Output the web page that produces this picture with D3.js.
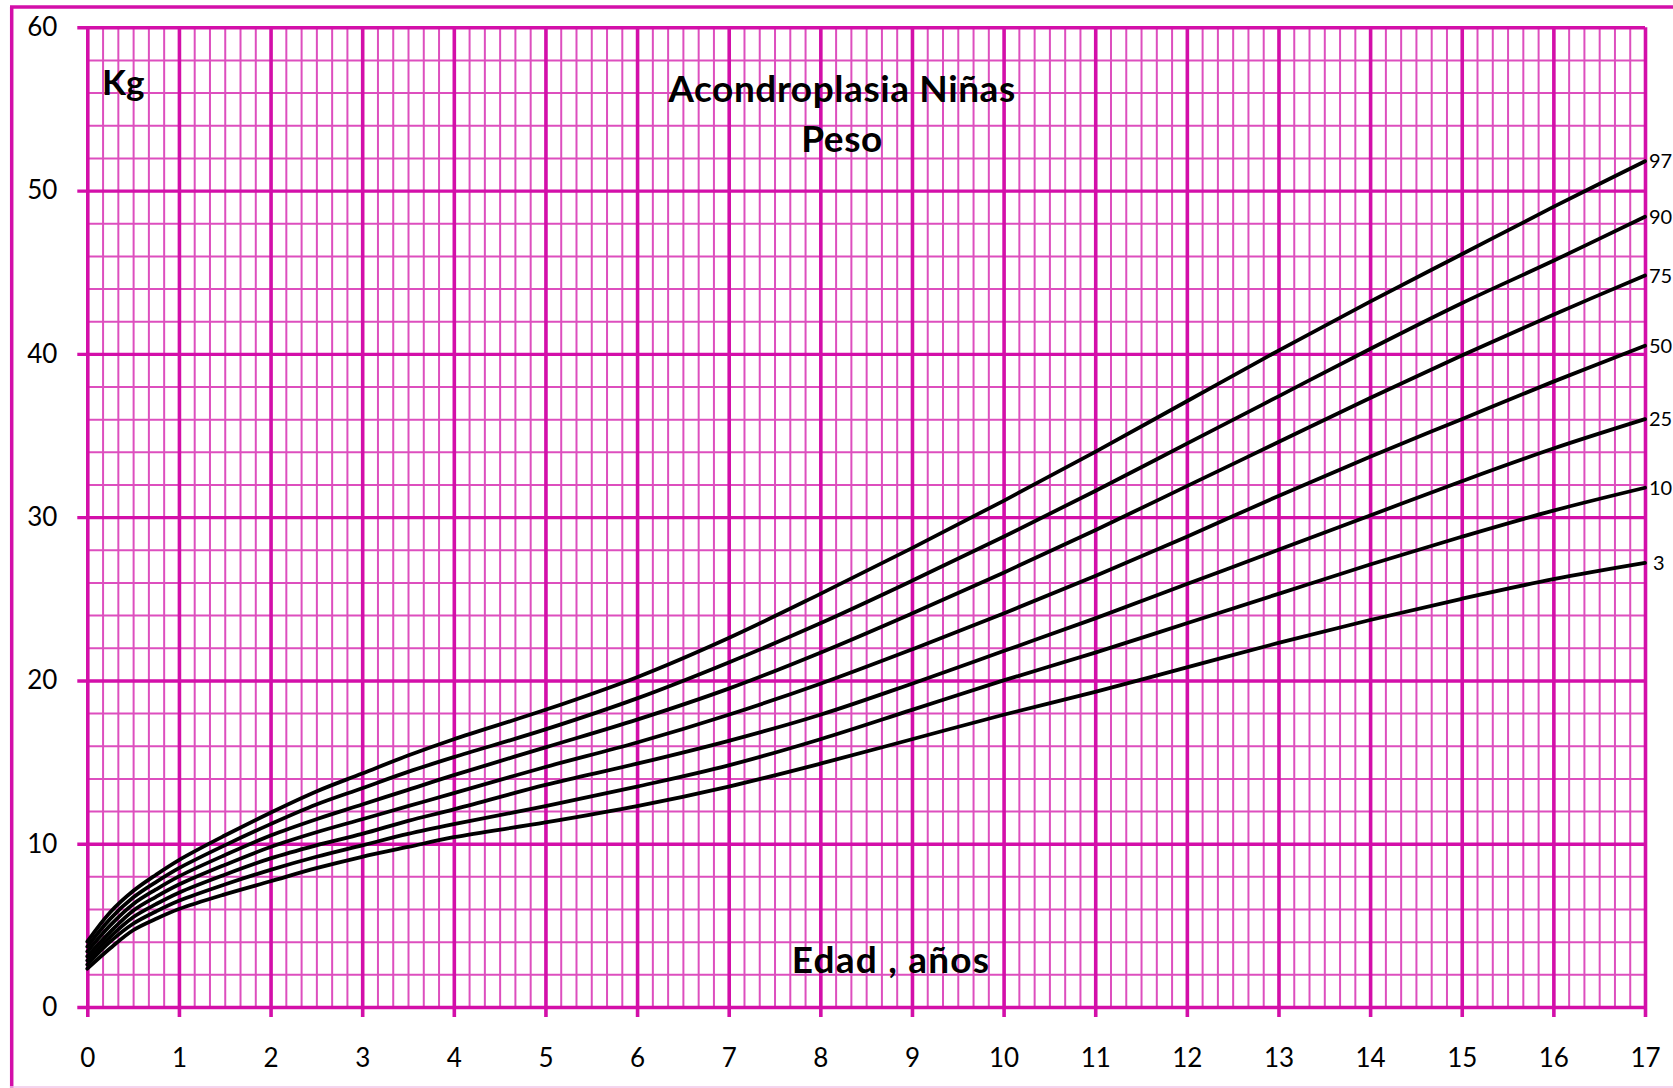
<!DOCTYPE html>
<html>
<head>
<meta charset="utf-8">
<script src="https://cdn.jsdelivr.net/npm/d3@7"></script>
<style>
  html, body { margin: 0; padding: 0; background: #fff; }
  svg { display: block; }
  text { font-family: Lato, "Open Sans", sans-serif; }
</style>
</head>
<body>
<script>
// ---- data ----
const ages = [0, 0.25, 0.5, 0.75, 1, 1.5, 2, 2.5, 3, 3.5, 4, 5, 6, 7, 8, 9, 10, 11, 12, 13, 14, 15, 16, 17];
const p3  = [2.35, 3.6, 4.7, 5.4, 6.0, 6.9, 7.7, 8.5, 9.2, 9.8, 10.4, 11.3, 12.3, 13.5, 14.9, 16.4, 17.9, 19.3, 20.8, 22.3, 23.7, 25.0, 26.2, 27.2];
const p10 = [2.6, 4.0, 5.1, 5.85, 6.5, 7.5, 8.4, 9.2, 9.9, 10.6, 11.2, 12.3, 13.5, 14.8, 16.4, 18.2, 20.0, 21.7, 23.5, 25.3, 27.1, 28.8, 30.4, 31.8];
const p25 = [2.85, 4.3, 5.5, 6.3, 7.0, 8.1, 9.1, 9.9, 10.6, 11.4, 12.1, 13.6, 14.9, 16.3, 17.9, 19.8, 21.8, 23.8, 25.9, 28.0, 30.1, 32.2, 34.2, 36.0];
const p50 = [3.1, 4.6, 5.9, 6.75, 7.5, 8.7, 9.8, 10.7, 11.5, 12.3, 13.1, 14.7, 16.2, 17.9, 19.8, 21.9, 24.1, 26.4, 28.8, 31.3, 33.7, 36.0, 38.3, 40.5];
const p75 = [3.4, 5.0, 6.3, 7.2, 8.0, 9.3, 10.5, 11.5, 12.4, 13.3, 14.2, 15.9, 17.6, 19.5, 21.7, 24.1, 26.6, 29.2, 31.9, 34.6, 37.3, 39.9, 42.4, 44.8];
const p90 = [3.7, 5.4, 6.7, 7.65, 8.5, 9.9, 11.2, 12.4, 13.4, 14.4, 15.3, 17.0, 18.9, 21.1, 23.5, 26.1, 28.8, 31.6, 34.5, 37.4, 40.3, 43.1, 45.7, 48.4];
const p97 = [4.0, 5.8, 7.1, 8.1, 9.0, 10.5, 11.9, 13.2, 14.3, 15.4, 16.4, 18.2, 20.2, 22.6, 25.3, 28.1, 31.0, 34.0, 37.1, 40.2, 43.2, 46.1, 49.0, 51.8];
const seriesNames = ["3", "10", "25", "50", "75", "90", "97"];
const seriesValues = [p3, p10, p25, p50, p75, p90, p97];
const xTicks = d3.range(0, 18, 1);
const yTicks = d3.range(0, 61, 10);
const title1 = "Acondroplasia Niñas";
const title2 = "Peso";
const yTitle = "Kg";
const xTitle = "Edad , años";

// ---- layout ----
const W = 1673, H = 1088;
const x0 = 87.3, x1 = 1645, yTop = 27.3, yBot = 1007;
const major = "#D30FA9", minor = "#DD4FBE";

const svg = d3.select("body").append("svg").attr("width", W).attr("height", H);

const x = d3.scaleLinear().domain([0, 17]).range([x0, x1]);
const y = d3.scaleLinear().domain([0, 60]).range([yBot, yTop]);

// outer frame
svg.append("line").attr("x1", 11.7).attr("x2", 11.7).attr("y1", 7).attr("y2", H)
  .attr("stroke", major).attr("stroke-width", 3.5);
svg.append("line").attr("x1", 10).attr("x2", W).attr("y1", 7).attr("y2", 7)
  .attr("stroke", major).attr("stroke-width", 3.5);
svg.append("line").attr("x1", 10).attr("x2", W).attr("y1", 1087).attr("y2", 1087)
  .attr("stroke", "#F0C6E8").attr("stroke-width", 1.5);

// minor grid
const minorX = d3.range(0, 17 * 6 + 1).filter(i => i % 6 !== 0).map(i => i / 6);
const minorY = d3.range(0, 61, 2).filter(v => v % 10 !== 0);

const gMinX = svg.append("g").attr("transform", `translate(0,${yBot})`)
  .call(d3.axisBottom(x).tickValues(minorX).tickSize(-(yBot - yTop)).tickFormat(""));
const gMinY = svg.append("g").attr("transform", `translate(${x0},0)`)
  .call(d3.axisLeft(y).tickValues(minorY).tickSize(-(x1 - x0)).tickFormat(""));
[gMinX, gMinY].forEach(g => {
  g.select(".domain").remove();
  g.selectAll(".tick line").attr("stroke", minor).attr("stroke-width", 2);
});

// major grid + axes
const gx = svg.append("g").attr("transform", `translate(0,${yBot})`)
  .call(d3.axisBottom(x).tickValues(xTicks).tickSize(10).tickFormat(d3.format("d")));
gx.select(".domain").remove();
gx.selectAll(".tick line").attr("y1", -(yBot - yTop)).attr("y2", 10)
  .attr("stroke", major).attr("stroke-width", 3.6);
gx.selectAll(".tick text").attr("y", 59.5).attr("dy", 0)
  .attr("font-size", 26).attr("fill", "#000").attr("font-family", "Lato");

const gy = svg.append("g").attr("transform", `translate(${x0},0)`)
  .call(d3.axisLeft(y).tickValues(yTicks).tickSize(10).tickPadding(20).tickFormat(d3.format("d")));
gy.select(".domain").remove();
gy.selectAll(".tick line").attr("x1", -10).attr("x2", x1 - x0)
  .attr("stroke", major).attr("stroke-width", 3.4);
gy.selectAll(".tick text").attr("font-size", 26).attr("fill", "#000").attr("font-family", "Lato");

// curves
const line = d3.line().x(d => x(d[0])).y(d => y(d[1])).curve(d3.curveCatmullRom.alpha(0.5));
const gCurves = svg.append("g");
seriesValues.forEach((vals, i) => {
  const pts = ages.map((a, j) => [a, vals[j]]);
  gCurves.append("path").attr("d", line(pts))
    .attr("fill", "none").attr("stroke", "#000").attr("stroke-width", 3.8)
    .attr("stroke-linecap", "round").attr("stroke-linejoin", "round");
  svg.append("text")
    .attr("x", x(17) + 4 + (seriesNames[i].length === 1 ? 4 : 0))
    .attr("y", y(vals[vals.length - 1]))
    .attr("dy", "0.36em")
    .attr("font-size", 20)
    .attr("fill", "#000")
    .text(seriesNames[i]);
});

// titles
svg.append("text").attr("x", 842).attr("y", 101.5).attr("text-anchor", "middle")
  .attr("font-size", 37).attr("letter-spacing", 0.6).attr("font-weight", "bold").text(title1);
svg.append("text").attr("x", 842).attr("y", 151.5).attr("text-anchor", "middle")
  .attr("font-size", 37).attr("letter-spacing", 0.6).attr("font-weight", "bold").text(title2);
svg.append("text").attr("x", 102).attr("y", 95).attr("text-anchor", "start")
  .attr("font-size", 35).attr("font-weight", "bold").text(yTitle);
svg.append("text").attr("x", 891).attr("y", 972.5).attr("text-anchor", "middle")
  .attr("font-size", 37).attr("letter-spacing", 1.2).attr("font-weight", "bold").text(xTitle);
</script>
</body>
</html>
